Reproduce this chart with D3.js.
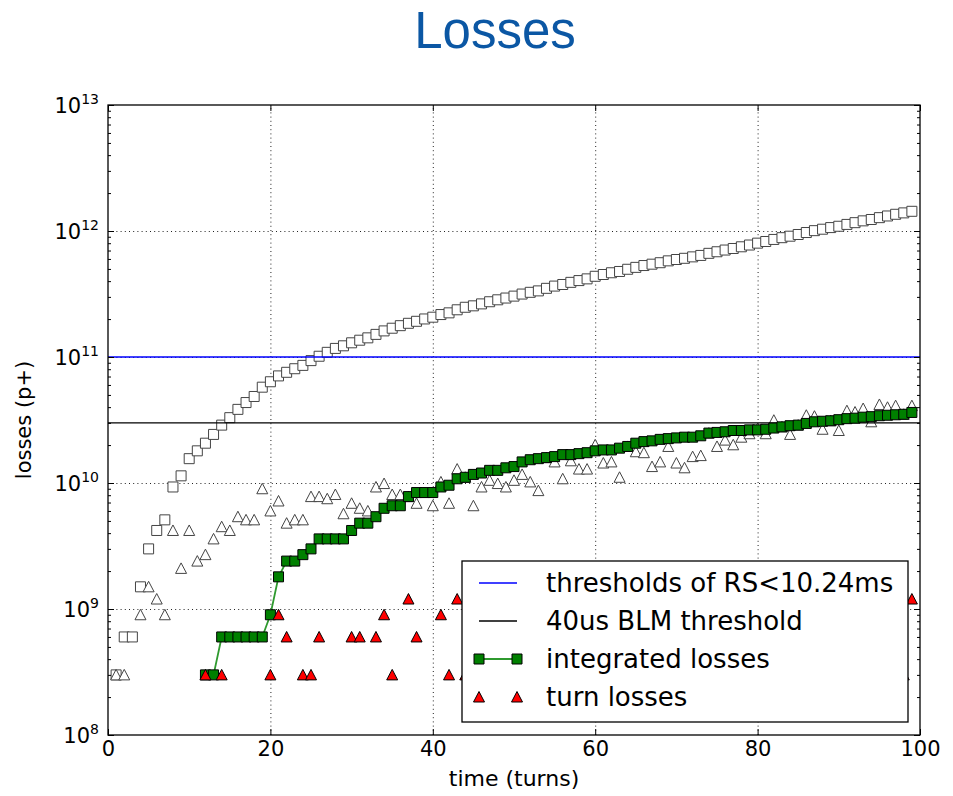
<!DOCTYPE html>
<html>
<head>
<meta charset="utf-8">
<script src="https://cdn.jsdelivr.net/npm/d3@7"></script>
<style>
body { margin: 0; background: #fff; }
text { font-family: "DejaVu Sans", sans-serif; }
</style>
</head>
<body>
<script>

// All loss values below are in units of 1e8 p+ (a zero means no loss that turn,
// which a log axis can't show, so it gets no marker)
var UNIT = 1e8;

// one sample per turn
var turns = d3.range(0, 100);

// open triangles: losses per turn (reference case)
var refTurnLosses = [
    0, 3, 3, 0, 9, 15, 12, 9, 42, 21,
    42, 24, 27, 36, 45, 42, 54, 51, 51, 90,
    60, 72, 48, 51, 51, 78, 78, 75, 81, 57,
    69, 63, 60, 93, 99, 81, 81, 78, 69, 84,
    66, 102, 69, 129, 111, 66, 93, 105, 99, 93,
    105, 117, 102, 87, 159, 147, 108, 150, 129, 129,
    201, 144, 147, 111, 195, 177, 174, 135, 147, 195,
    144, 132, 162, 165, 249, 195, 219, 201, 231, 246,
    270, 246, 315, 279, 243, 288, 345, 339, 267, 312,
    261, 375, 366, 390, 306, 420, 399, 411, 351, 411
]

// open squares: integrated losses (reference case)
var refIntegrated = [
    0, 3, 6, 6, 15, 30, 42, 51, 93, 114,
    156, 180, 207, 243, 288, 330, 384, 435, 486, 576,
    636, 708, 756, 807, 858, 936, 1014, 1089, 1170, 1227,
    1296, 1359, 1419, 1512, 1611, 1692, 1773, 1851, 1920, 2004,
    2070, 2172, 2241, 2370, 2481, 2547, 2640, 2745, 2844, 2937,
    3042, 3159, 3261, 3348, 3507, 3654, 3762, 3912, 4041, 4170,
    4371, 4515, 4662, 4773, 4968, 5145, 5319, 5454, 5601, 5796,
    5940, 6072, 6234, 6399, 6648, 6843, 7062, 7263, 7494, 7740,
    8010, 8256, 8571, 8850, 9093, 9381, 9726, 10065, 10332, 10644,
    10905, 11280, 11646, 12036, 12342, 12762, 13161, 13572, 13923, 14334
]

// red triangles: turn losses
var turnLosses = [
    0, 0, 0, 0, 0, 0, 0, 0, 0, 0,
    0, 0, 3, 0, 3, 0, 0, 0, 0, 0,
    3, 9, 6, 0, 3, 3, 6, 0, 0, 0,
    6, 6, 0, 6, 9, 3, 0, 12, 6, 0,
    0, 9, 3, 12, 3, 6, 3, 6, 0, 6,
    3, 12, 6, 3, 3, 3, 6, 0, 3, 3,
    6, 3, 0, 6, 6, 12, 6, 3, 6, 3,
    3, 3, 0, 6, 12, 3, 3, 6, 0, 3,
    0, 3, 6, 6, 6, 3, 9, 9, 3, 3,
    6, 6, 3, 6, 3, 6, 3, 3, 3, 12
]

// green squares: integrated losses
var integratedLosses = [
    0, 0, 0, 0, 0, 0, 0, 0, 0, 0,
    0, 0, 3, 3, 6, 6, 6, 6, 6, 6,
    9, 18, 24, 24, 27, 30, 36, 36, 36, 36,
    42, 48, 48, 54, 63, 66, 66, 78, 84, 84,
    84, 93, 96, 108, 111, 117, 120, 126, 126, 132,
    135, 147, 153, 156, 159, 162, 168, 168, 171, 174,
    180, 183, 183, 189, 195, 207, 213, 216, 222, 225,
    228, 231, 231, 237, 249, 252, 255, 261, 261, 264,
    264, 267, 273, 279, 285, 288, 297, 306, 309, 312,
    318, 324, 327, 333, 336, 342, 345, 348, 351, 363
]

// horizontal thresholds (p+)
var thresholdRS = 1e11
var thresholdBLM = 3e10

var xTicks = [0, 20, 40, 60, 80, 100]
var yExponents = [8, 9, 10, 11, 12, 13]

var legendLabels = ['thresholds of RS<10.24ms', '40us BLM threshold', 'integrated losses', 'turn losses']

// Formatting stuff
var margin = ({top: 105, right: 33, bottom: 61, left: 108})
var width = 953 - margin.left - margin.right
var height = 796 - margin.top - margin.bottom

var lineGreen = "#2f9a2f"

var svg = d3.select("body")
    .append("svg")
    .attr("width", 953)
    .attr("height", 796)

svg.append("rect").attr("width", 953).attr("height", 796).attr("fill", "#fff")

// slide title
svg.append("text")
    .attr("x", 495)
    .attr("y", 48)
    .attr("text-anchor", "middle")
    .style("font-family", "'Liberation Sans', Arial, sans-serif")
    .style("font-size", "51px")
    .attr("fill", "#0b57a4")
    .text("Losses")

var g = svg.append('g')
    .attr("transform", "translate(" + margin.left + "," + margin.top + ")")

var xScale = d3.scaleLinear()
    .domain([0, 100])
    .range([0, width])

var yScale = d3.scaleLog()
    .domain([1e8, 1e13])
    .range([height, 0])

// minor log ticks (2..9 in each decade)
var minorTicks = []
yExponents.slice(0, -1).forEach(function(e) {
    for (var k = 2; k < 10; k++) minorTicks.push(k * Math.pow(10, e))
})

// grid (dotted, like old matplotlib)
g.append("g")
    .attr("transform", "translate(0," + height + ")")
    .call(d3.axisBottom(xScale).tickValues(xTicks.slice(1, -1)).tickSize(-height).tickFormat(""))
    .call(function(a) { a.select(".domain").remove() })
    .selectAll("line")
    .attr("stroke", "#222")
    .attr("stroke-dasharray", "1,3.2")

g.append("g")
    .call(d3.axisLeft(yScale).tickValues(yExponents.slice(1, -1).map(function(e) { return Math.pow(10, e) })).tickSize(-width).tickFormat(""))
    .call(function(a) { a.select(".domain").remove() })
    .selectAll("line")
    .attr("stroke", "#222")
    .attr("stroke-dasharray", "1,3.2")

// helper to pull [turn, value] pairs out of a series, skipping zeros
function points(series) {
    return turns.map(function(t) { return {turn: t, value: series[t] * UNIT} })
        .filter(function(d) { return d.value > 0 })
}

var squarePath = "M-5,-5H5V5H-5Z"
var trianglePath = "M0,-5.5L5.5,5L-5.5,5Z"

function drawMarkers(data, path, fill, stroke) {
    g.append("g").selectAll("path")
        .data(data)
        .join("path")
        .attr("transform", function(d) { return "translate(" + xScale(d.turn) + "," + yScale(d.value) + ")" })
        .attr("d", path)
        .attr("fill", fill)
        .attr("stroke", stroke)
        .attr("stroke-width", 1)
}

// reference case first (open markers)
drawMarkers(points(refIntegrated), squarePath, "#fff", "#444")
drawMarkers(points(refTurnLosses), trianglePath, "#fff", "#444")

// threshold lines
g.append("line")
    .attr("x1", 0).attr("x2", width)
    .attr("y1", yScale(thresholdRS)).attr("y2", yScale(thresholdRS))
    .attr("stroke", "#0000ff").attr("stroke-width", 1.4)

g.append("line")
    .attr("x1", 0).attr("x2", width)
    .attr("y1", yScale(thresholdBLM)).attr("y2", yScale(thresholdBLM))
    .attr("stroke", "#000").attr("stroke-width", 1.4)

// integrated losses: line + squares
var intPts = points(integratedLosses)
g.append("path")
    .datum(intPts)
    .attr("fill", "none")
    .attr("stroke", lineGreen)
    .attr("stroke-width", 1.8)
    .attr("d", d3.line().x(function(d) { return xScale(d.turn) }).y(function(d) { return yScale(d.value) }))

drawMarkers(intPts, squarePath, "#008000", "#000")

// turn losses: red triangles
drawMarkers(points(turnLosses), trianglePath, "#ff0000", "#000")

// axes: ticks point inward, on all four sides
function styleAxis(a) {
    a.select(".domain").remove()
    a.selectAll("line").attr("stroke", "#000").attr("stroke-width", 1)
    a.selectAll("text").style("font-family", "'DejaVu Sans', sans-serif").style("font-size", "21px").attr("fill", "#000")
}

g.append("g")
    .attr("transform", "translate(0," + height + ")")
    .call(d3.axisBottom(xScale).tickValues(xTicks).tickSize(-6).tickPadding(6).tickFormat(d3.format("d")))
    .call(styleAxis)

g.append("g")
    .call(d3.axisTop(xScale).tickValues(xTicks).tickSize(-6).tickFormat(""))
    .call(styleAxis)

var yMajor = yExponents.map(function(e) { return Math.pow(10, e) })

var yAxis = g.append("g")
    .call(d3.axisLeft(yScale).tickValues(yMajor).tickSize(-6).tickPadding(9).tickFormat(""))
    .call(styleAxis)

// 10^n labels with a real superscript
yAxis.selectAll(".tick text")
    .attr("dy", "0.36em")
    .each(function(d) {
        var t = d3.select(this)
        t.text("10")
        t.append("tspan")
            .attr("dy", "-0.62em")
            .style("font-size", "14px")
            .text(Math.round(Math.log10(d)))
    })

g.append("g")
    .attr("transform", "translate(" + width + ",0)")
    .call(d3.axisRight(yScale).tickValues(yMajor).tickSize(-6).tickFormat(""))
    .call(styleAxis)

g.append("g")
    .call(d3.axisLeft(yScale).tickValues(minorTicks).tickSize(-3).tickFormat(""))
    .call(styleAxis)

g.append("g")
    .attr("transform", "translate(" + width + ",0)")
    .call(d3.axisRight(yScale).tickValues(minorTicks).tickSize(-3).tickFormat(""))
    .call(styleAxis)

// frame
g.append("rect")
    .attr("width", width)
    .attr("height", height)
    .attr("fill", "none")
    .attr("stroke", "#000")
    .attr("stroke-width", 1.3)

// axis labels
svg.append("text")
    .attr("x", margin.left + width / 2)
    .attr("y", 786)
    .attr("text-anchor", "middle")
    .style("font-size", "22px")
    .text("time (turns)")

svg.append("text")
    .attr("transform", "translate(31," + (margin.top + height / 2) + ") rotate(-90)")
    .attr("text-anchor", "middle")
    .style("font-size", "21px")
    .text("losses (p+)")

// legend, lower right
var legend = svg.append("g").attr("transform", "translate(462,561)")

legend.append("rect")
    .attr("width", 446)
    .attr("height", 161)
    .attr("fill", "#fff")
    .attr("stroke", "#000")
    .attr("stroke-width", 1.3)

var rowY = [22, 60, 98, 136]
var hx1 = 17, hx2 = 55

legendLabels.forEach(function(label, i) {
    var row = legend.append("g").attr("transform", "translate(0," + rowY[i] + ")")
    if (i < 3) {
        row.append("line")
            .attr("x1", hx1).attr("x2", hx2)
            .attr("stroke", ["#0000ff", "#000", lineGreen][i])
            .attr("stroke-width", i == 2 ? 1.8 : 1.4)
    }
    if (i == 2) {
        [hx1, hx2].forEach(function(x) {
            row.append("path").attr("transform", "translate(" + x + ",0)")
                .attr("d", squarePath).attr("fill", "#008000").attr("stroke", "#000")
        })
    }
    if (i == 3) {
        [hx1, hx2].forEach(function(x) {
            row.append("path").attr("transform", "translate(" + x + ",0)")
                .attr("d", trianglePath).attr("fill", "#ff0000").attr("stroke", "#000")
        })
    }
    row.append("text")
        .attr("x", 84)
        .attr("y", 9)
        .style("font-size", "26px")
        .text(label)
})

</script>
</body>
</html>
